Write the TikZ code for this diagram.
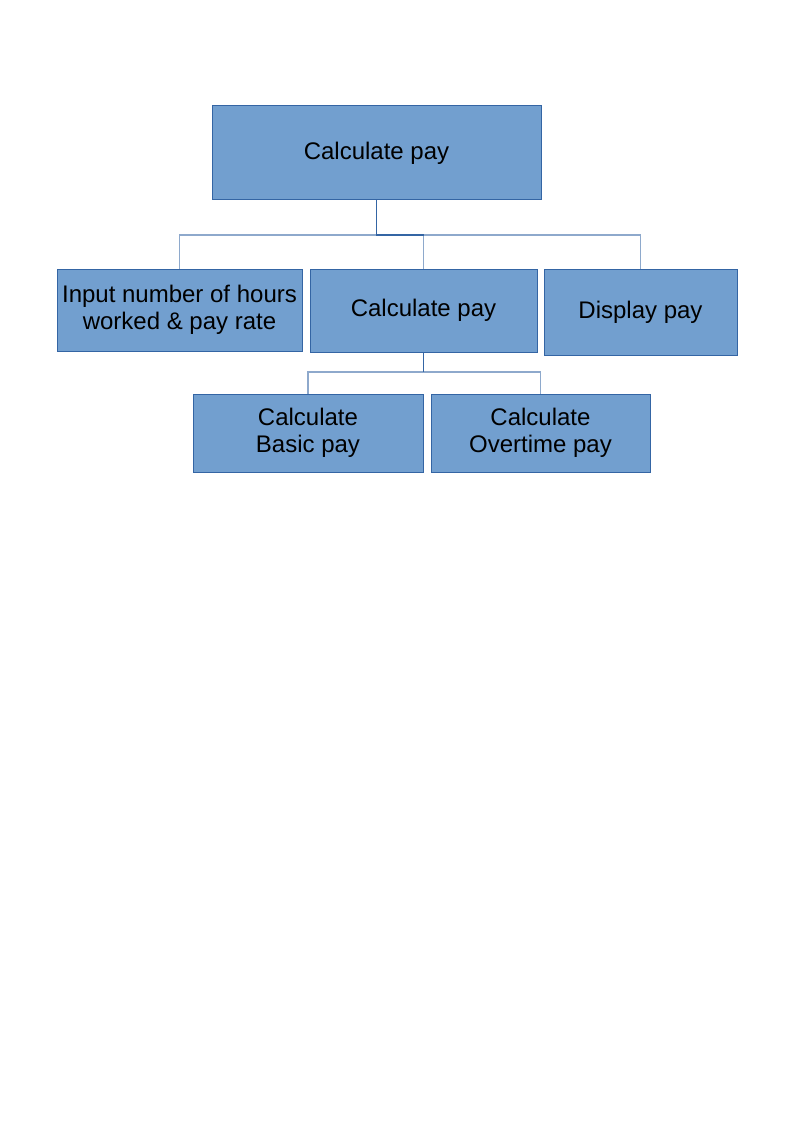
\documentclass[tikz,border=0pt]{standalone}
\usepackage{fontspec}
\setmainfont{Liberation Sans}
\definecolor{boxfill}{HTML}{729FCF}
\definecolor{boxline}{HTML}{3465A4}
\definecolor{linklight}{HTML}{8EA9CC}
\tikzset{
	task/.style={draw=boxline, fill=boxfill, line width=1pt, inner sep=0pt, align=center,
		font=\fontsize{24}{27.5}\selectfont},
	link/.style={draw=linklight, line width=1.2pt},
	linkdark/.style={draw=boxline, line width=1.4pt}
}
\begin{document}
\begin{tikzpicture}[x=1pt, y=-1pt]
	\useasboundingbox (0, 0) rectangle (794, 1123);
	
	\node[task, minimum width=329pt, minimum height=94pt] (top) at (376.5, 153) {Calculate pay};
	
	\node[task, minimum width=245pt, minimum height=82pt] (inp) at (179.5, 310) {Input number of hours\\worked \& pay rate};
	\node[task, minimum width=227pt, minimum height=83pt] (calc) at (423.5, 310.5) {Calculate pay};
	\node[task, minimum width=193pt, minimum height=86pt] (disp) at (640.5, 312) {Display pay};
	
	\node[task, minimum width=230pt, minimum height=78pt] (basic) at (308, 433) {Calculate\\Basic pay};
	\node[task, minimum width=219pt, minimum height=78pt] (over) at (540.5, 433) {Calculate\\Overtime pay};
	
	\coordinate (J1) at (376.5, 235);
	\coordinate (J2) at (423.5, 372);
	
	\draw[link] (inp.north) -- (inp.north |- J1) -- (disp.north |- J1) -- (disp.north);
	\draw[link] (calc.north |- J1) -- (calc.north);
	\draw[linkdark] (top.south) -- (J1) -- (calc.north |- J1);
	
	\draw[link] (basic.north) -- (basic.north |- J2) -- (over.north |- J2) -- (over.north);
	\draw[linkdark] (calc.south) -- (J2);
\end{tikzpicture}
\end{document}
